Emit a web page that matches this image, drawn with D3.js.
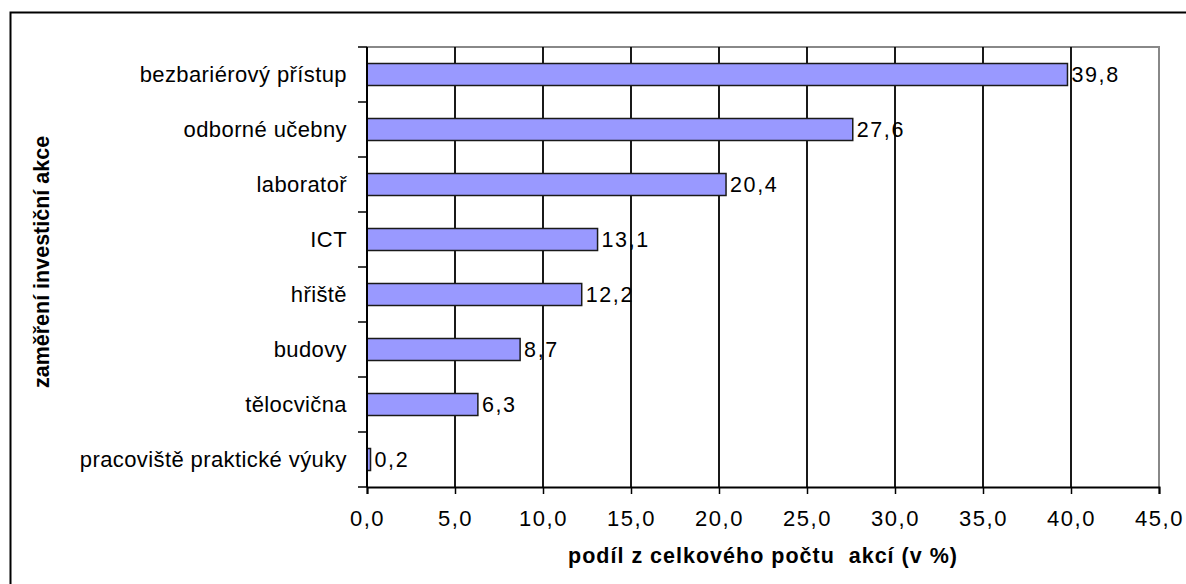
<!DOCTYPE html>
<meta charset="utf-8">
<style>
body { margin: 0; background: #fff; }
text { font-family: "Liberation Sans", Arial, sans-serif; fill: #000; }
</style>
<svg width="1186" height="584"></svg>
<script src="https://d3js.org/d3.v7.min.js"></script>
<script>

var categories = ["bezbariérový přístup", "odborné učebny", "laboratoř", "ICT", "hřiště", "budovy", "tělocvična", "pracoviště praktické výuky"],
    values = [39.8, 27.6, 20.4, 13.1, 12.2, 8.7, 6.3, 0.2],
    xTicks = [0, 5, 10, 15, 20, 25, 30, 35, 40, 45];

var svg = d3.select("svg"),
    margin = {top: 47, right: 27, bottom: 97, left: 367},
    width = +svg.attr("width") - margin.left - margin.right,
    height = +svg.attr("height") - margin.top - margin.bottom;

// outer chart frame (runs off the right and bottom edge)
svg.append("rect")
    .attr("x", 10.5).attr("y", 12.5)
    .attr("width", 1200).attr("height", 600)
    .attr("fill", "none").attr("stroke", "#000").attr("stroke-width", 2);

var x = d3.scaleLinear().domain([0, 45]).range([0, width]),
    y = d3.scaleBand().domain(categories).range([0, height]).paddingInner(0.6).paddingOuter(0.3);

var fmt = function(d) { return d3.format(".1f")(d).replace(".", ","); };

var g = svg.append("g")
    .attr("transform", "translate(" + margin.left + "," + margin.top + ")");

// plot border (grey top/right)
g.append("path")
    .attr("d", "M0,0H" + width + "V" + height)
    .attr("fill", "none").attr("stroke", "#888").attr("stroke-width", 2);

// vertical gridlines
g.selectAll(".grid")
    .data(xTicks.filter(function(d) { return d > 0 && d < 45; }))
  .enter().append("line")
    .attr("x1", function(d) { return x(d); })
    .attr("x2", function(d) { return x(d); })
    .attr("y1", 0).attr("y2", height)
    .attr("stroke", "#000").attr("stroke-width", 1.8);

// bars
g.selectAll(".bar")
    .data(values)
  .enter().append("rect")
    .attr("x", 0)
    .attr("y", function(d, i) { return y(categories[i]); })
    .attr("width", function(d) { return x(d); })
    .attr("height", y.bandwidth())
    .attr("fill", "#9999ff")
    .attr("stroke", "#1a1a1a").attr("stroke-width", 1.5);

// value labels
g.selectAll(".val")
    .data(values)
  .enter().append("text")
    .attr("x", function(d) { return x(d) + 4; })
    .attr("y", function(d, i) { return y(categories[i]) + y.bandwidth() / 2; })
    .attr("dy", "0.36em")
    .style("font-size", "21.5px").style("letter-spacing", "1.6px")
    .text(fmt);

// x axis
var xAxis = g.append("g")
    .attr("transform", "translate(0," + height + ")")
    .call(d3.axisBottom(x).tickValues(xTicks).tickFormat(fmt).tickSize(7).tickPadding(16));
xAxis.select(".domain").attr("stroke", "#000").attr("stroke-width", 2);
xAxis.selectAll(".tick line").attr("stroke-width", 1.5);
xAxis.selectAll("text").style("font-size", "22px").style("letter-spacing", "1.5px").attr("font-family", null);

// y axis (category boundaries as ticks)
var yBounds = d3.range(categories.length + 1).map(function(i) { return i * height / categories.length; });
g.append("line")
    .attr("x1", 0).attr("x2", 0).attr("y1", 0).attr("y2", height)
    .attr("stroke", "#000").attr("stroke-width", 2);
g.selectAll(".ytick")
    .data(yBounds)
  .enter().append("line")
    .attr("x1", -9).attr("x2", 0)
    .attr("y1", function(d) { return d; }).attr("y2", function(d) { return d; })
    .attr("stroke", "#000").attr("stroke-width", 1.5);
g.selectAll(".ylab")
    .data(categories)
  .enter().append("text")
    .attr("x", -20)
    .attr("y", function(d) { return y(d) + y.bandwidth() / 2; })
    .attr("dy", "0.36em")
    .attr("text-anchor", "end")
    .style("font-size", "22px").style("letter-spacing", "0.4px")
    .text(function(d) { return d; });

// axis titles
svg.append("text")
    .attr("x", 763)
    .attr("y", 563)
    .attr("text-anchor", "middle")
    .style("font-size", "21.5px").style("font-weight", "bold")
    .style("white-space", "pre").style("letter-spacing", "1px")
    .text("podíl z celkového počtu  akcí (v %)");

svg.append("text")
    .attr("transform", "translate(49,262) rotate(-90)")
    .attr("text-anchor", "middle")
    .style("font-size", "21.5px").style("font-weight", "bold")
    .text("zaměření investiční akce");

</script>
